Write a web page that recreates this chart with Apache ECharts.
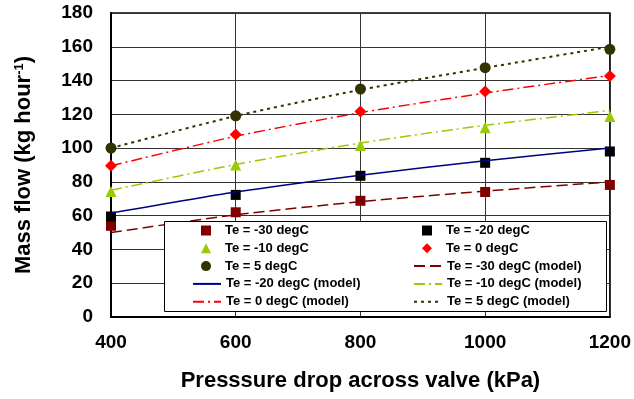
<!DOCTYPE html>
<html>
<head>
<meta charset="utf-8">
<script src="https://cdn.jsdelivr.net/npm/echarts@6/dist/echarts.min.js"></script>
<style>
  html, body { margin: 0; padding: 0; background: #fff; }
  #chart { width: 634px; height: 399px; }
</style>
</head>
<body>
<div id="chart"></div>
<script>
// pressure drop (kPa)
const pressure = [400, 600, 800, 1000, 1200];

// measured mass flow (kg/h)
const measTm30 = [54, 62, 68.8, 74, 78.2];
const measTm20 = [59.5, 72.3, 83.6, 91.3, 98];
const measTm10 = [74.3, 90, 101.5, 112, 118.7];
const measT0 = [89.5, 108, 121.7, 133.5, 142.7];
const measT5 = [100, 119.1, 135, 147.6, 158.5];

// model curves
const modelTm30 = [50, 60.5, 68.3, 74.5, 80];
const modelTm20 = [61.5, 74, 84, 92.5, 100];
const modelTm10 = [75, 90.3, 103, 113.5, 122.3];
const modelT0 = [89.5, 107, 121, 132.6, 143];
const modelT5 = [100, 119, 134.5, 147.5, 160];

const xTicks = [400, 600, 800, 1000, 1200];
const yTicks = [0, 20, 40, 60, 80, 100, 120, 140, 160, 180];

const FONT = '"Liberation Sans", Arial, sans-serif';

const pairs = (ys) => pressure.map((x, i) => [x, ys[i]]);

const chart = echarts.init(document.getElementById('chart'));

function scatter(name, data, symbol, color, size) {
    return {
        name: name,
        type: 'scatter',
        data: pairs(data),
        symbol: symbol,
        symbolSize: size,
        clip: false,
        itemStyle: { color: color, opacity: 1 },
        z: 3
    };
}

function model(name, data, color, dash, width) {
    return {
        name: name,
        type: 'line',
        data: pairs(data),
        smooth: 0.25,
        symbol: 'none',
        showSymbol: false,
        clip: false,
        itemStyle: { color: color },
        lineStyle: { color: color, width: width || 1.5, type: dash },
        z: 4
    };
}

const series = [
    scatter('Te = -30 degC', measTm30, 'rect', '#800000', 10),
    scatter('Te = -20 degC', measTm20, 'rect', '#000000', 10),
    scatter('Te = -10 degC', measTm10, 'triangle', '#99cc00', 11),
    scatter('Te = 0 degC', measT0, 'diamond', '#ff0000', 12),
    scatter('Te = 5 degC', measT5, 'circle', '#333300', 11),
    model('Te = -30 degC (model)', modelTm30, '#800000', [11, 5]),
    model('Te = -20 degC (model)', modelTm20, '#000080', 'solid'),
    model('Te = -10 degC (model)', modelTm10, '#99cc00', [11, 4, 2, 4]),
    model('Te = 0 degC (model)', modelT0, '#ff0000', [11, 4, 2, 4]),
    model('Te = 5 degC (model)', modelT5, '#333300', [3, 4], 2)
];

// legend laid out as two columns, read row by row
const names = series.map(s => s.name);
const leftCol = names.filter((n, i) => i % 2 === 0);
const rightCol = names.filter((n, i) => i % 2 === 1);

const ROW = 17.8;
const TOP = 222.5;
const legendText = { fontFamily: FONT, fontSize: 13, fontWeight: 'bold', color: '#000', lineHeight: 16 };

function legendBlock(left, row, list, isMarker) {
    const data = list.filter(n => (names.indexOf(n) < 5) === isMarker)
        .map(n => isMarker ? { name: n } : { name: n, itemStyle: { color: 'rgba(0,0,0,0)', borderWidth: 0 } });
    return {
        orient: 'vertical',
        left: isMarker ? left + 9 : left,
        top: TOP + row * ROW,
        itemWidth: isMarker ? 10 : 28,
        itemHeight: isMarker ? 10 : 9,
        itemGap: ROW - 16,
        padding: 0,
        selectedMode: false,
        textStyle: Object.assign({}, legendText, isMarker ? { padding: [0, 0, 0, 9] } : {}),
        data: data,
        z: 6
    };
}

const option = {
    animation: false,
    backgroundColor: '#fff',
    grid: {
        left: 111, right: 22, top: 13, bottom: 82,
        show: true, borderColor: '#000', borderWidth: 1.5, backgroundColor: 'transparent'
    },
    graphic: [{
        type: 'rect',
        shape: { x: 164.5, y: 221.5, width: 442, height: 90 },
        style: { fill: '#fff', stroke: '#000', lineWidth: 1 },
        z: 5
    }],
    legend: [
        legendBlock(192, 0, leftCol, true),
        legendBlock(192, 3, leftCol, false),
        legendBlock(413, 0, rightCol, true),
        legendBlock(413, 2, rightCol, false)
    ],
    xAxis: {
        type: 'value',
        min: xTicks[0],
        max: xTicks[xTicks.length - 1],
        interval: 200,
        name: 'Presssure drop across valve (kPa)',
        nameLocation: 'middle',
        nameGap: 53,
        nameTextStyle: { fontFamily: FONT, fontSize: 22, fontWeight: 'bold', color: '#000' },
        axisLine: { show: true, lineStyle: { color: '#000', width: 2 } },
        axisTick: { show: false },
        axisLabel: {
            fontFamily: FONT, fontSize: 19, fontWeight: 'bold', color: '#000', margin: 16,
            formatter: (v) => String(v)
        },
        splitLine: { show: true, lineStyle: { color: '#333', width: 1 } }
    },
    yAxis: {
        type: 'value',
        min: yTicks[0],
        max: yTicks[yTicks.length - 1],
        interval: 20,
        name: '{a|Mass flow (kg hour}{s|-1}{a|)}',
        nameLocation: 'middle',
        nameGap: 76,
        nameTextStyle: {
            rich: {
                a: { fontFamily: FONT, fontSize: 22, fontWeight: 'bold', color: '#000' },
                s: { fontFamily: FONT, fontSize: 13, fontWeight: 'bold', color: '#000', verticalAlign: 'top' }
            }
        },
        axisLine: { show: true, lineStyle: { color: '#000', width: 2 } },
        axisTick: { show: false },
        axisLabel: { fontFamily: FONT, fontSize: 19, fontWeight: 'bold', color: '#000', margin: 18 },
        splitLine: { show: true, lineStyle: { color: '#333', width: 1 } }
    },
    series: series
};

chart.setOption(option);
</script>
</body>
</html>
